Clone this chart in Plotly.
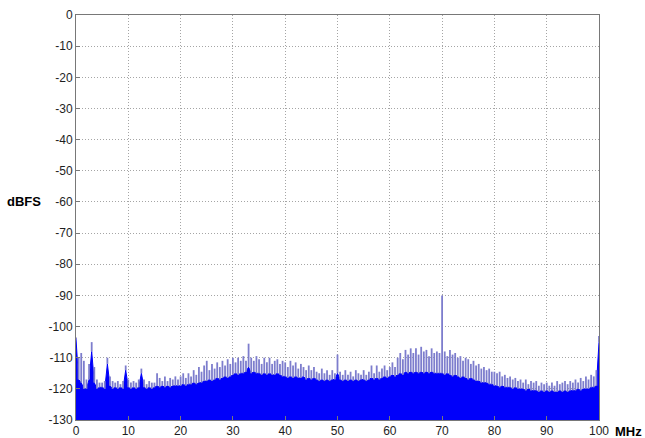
import numpy as np
import plotly.graph_objects as go

# Frequency grid (MHz), 0.5 MHz spacing
freq_mhz = np.arange(0, 100.5, 0.5)

# Solid noise floor (dBFS), 10 values per 5 MHz
floor_db = [
    -104, -117, -118, -120, -120, -117, -108, -118, -120, -119.5,      # 0-4.5
    -119.5, -120, -112, -119, -120, -119.5, -120, -119.5, -120, -114,  # 5-9.5
    -119.5, -120, -119.5, -120, -119.5, -115, -119.5, -120, -119.5, -120,  # 10-14.5
    -119.5, -119, -119.5, -119, -119.5, -119, -119.5, -119, -119, -119,    # 15-19.5
    -119, -118.5, -119, -118.5, -118.5, -118, -118.5, -118, -118, -117.5,  # 20-24.5
    -117.5, -117, -117.5, -117, -116.5, -117, -116.5, -116, -116.5, -116,  # 25-29.5
    -115.5, -115, -115.5, -115, -115, -114.5, -113, -115, -114.5, -115,    # 30-34.5
    -115, -115.5, -115, -115.5, -115, -115.5, -115.5, -115, -115.5, -116,  # 35-39.5
    -116, -116.5, -116, -116.5, -116, -116.5, -116.5, -116, -117, -116.5,  # 40-44.5
    -117, -116.5, -117, -117.5, -117, -117.5, -117, -117.5, -117, -117,    # 45-49.5
    -115, -117, -117.5, -117, -117.5, -117, -117.5, -117, -117.5, -117,    # 50-54.5
    -117, -117.5, -117, -116.5, -117, -116.5, -117, -116.5, -116, -116.5,  # 55-59.5
    -116, -115.5, -116, -115.5, -115, -115.5, -114.5, -115, -114.5, -115,  # 60-64.5
    -114.5, -115, -114.5, -115, -114.5, -115, -114.5, -115, -115, -115,    # 65-69.5
    -115, -115.5, -115, -115.5, -116, -115.5, -116, -116.5, -116, -116.5,  # 70-74.5
    -117, -116.5, -117, -117.5, -117.5, -118, -118, -118, -118.5, -118.5,  # 75-79.5
    -119, -119, -119.5, -119, -119.5, -119.5, -119.5, -120, -119.5, -120,  # 80-84.5
    -120, -120, -120.5, -120, -120.5, -120.5, -120.5, -121, -120.5, -121,  # 85-89.5
    -120.5, -121, -120.5, -121, -121, -120.5, -121, -120.5, -121, -120.5,  # 90-94.5
    -120.5, -120.5, -120, -120.5, -120, -120, -120, -119.5, -119.5, -119,  # 95-99.5
    -105,                                                                  # 100
]

# Peak (spur / noise maxima) levels (dBFS)
peak_db = [
    -103.5, -110, -108.5, -111, -117, -112, -105, -113, -117, -118,        # 0-4.5
    -118, -117.5, -110, -116, -117.5, -118, -117.5, -118.5, -117.5, -112.5,  # 5-9.5
    -117, -118, -117.5, -118, -117, -113.5, -117, -118.5, -117.5, -118,    # 10-14.5
    -118, -115, -116.5, -117.5, -116, -117.5, -116.5, -117, -116, -117,    # 15-19.5
    -116, -115, -116.5, -115, -116, -114, -115.5, -113, -114.5, -112.5,    # 20-24.5
    -111, -114, -112, -113.5, -111.5, -113, -111, -112.5, -110.5, -112,    # 25-29.5
    -110, -111.5, -110, -111, -109.5, -111, -105.5, -110, -111, -109.5,    # 30-34.5
    -110.5, -112, -110, -111.5, -110, -112, -111, -110.5, -112, -111,      # 35-39.5
    -111.5, -113, -111, -112.5, -111.5, -113.5, -112, -113, -114, -112.5,  # 40-44.5
    -114, -113, -114.5, -115, -113.5, -115, -114, -115.5, -114, -115,      # 45-49.5
    -109, -114.5, -115.5, -114, -115.5, -114.5, -116, -114, -115, -115.5,  # 50-54.5
    -114, -115.5, -114.5, -112.5, -115, -112.5, -114.5, -113.5, -112.5, -114,  # 55-59.5
    -113, -111.5, -113, -110, -108.5, -110.5, -107.5, -109, -107, -108.5,  # 60-64.5
    -107, -109, -106.5, -108, -107.5, -109.5, -107, -108.5, -108, -108.5,  # 65-69.5
    -90, -108, -109.5, -107.5, -109, -108.5, -110, -109.5, -111, -110,     # 70-74.5
    -110.5, -112, -111, -112.5, -112, -113.5, -113, -114, -113.5, -114.5,  # 75-79.5
    -114.5, -115, -114.5, -116, -115.5, -116.5, -116, -117, -116.5, -117.5,  # 80-84.5
    -117, -118, -117, -118.5, -117.5, -118, -117.5, -119, -118, -118.5,    # 85-89.5
    -118, -119, -118, -119, -117.5, -118.5, -118, -117.5, -118.5, -117.5,  # 90-94.5
    -118, -117, -118, -116.5, -117.5, -116, -117, -115.5, -116, -114,      # 95-99.5
    -103,                                                                  # 100
]

x_ticks = list(range(0, 101, 10))
y_ticks = list(range(-130, 1, 10))
y_min, y_max = -130, 0

BLUE = "rgb(0,0,250)"
SPIKE = "rgb(125,125,205)"
AXIS = "rgb(120,120,120)"
GRID = "rgb(165,165,165)"

fig = go.Figure()

# baseline at bottom of axis for the fill
fig.add_trace(go.Scatter(x=freq_mhz, y=[y_min] * len(freq_mhz), mode="lines",
                         line=dict(width=0, color=BLUE), hoverinfo="skip",
                         showlegend=False))

# spikes drawn as vertical segments up to the peak level
sx, sy = [], []
for f, lo, hi in zip(freq_mhz, floor_db, peak_db):
    if hi > lo:
        sx += [f, f, None]
        sy += [lo, hi, None]

# solid noise floor
fig.add_trace(go.Scatter(x=freq_mhz, y=floor_db, mode="lines", fill="tonexty",
                         fillcolor=BLUE, line=dict(width=1, color=BLUE),
                         showlegend=False))
fig.add_trace(go.Scatter(x=sx, y=sy, mode="lines",
                         line=dict(width=1.8, color=SPIKE), showlegend=False))

fig.update_layout(
    width=645, height=438,
    margin=dict(l=76, r=46, t=15, b=18),
    paper_bgcolor="white", plot_bgcolor="white",
    font=dict(family="Liberation Sans, Arial, sans-serif", size=12, color="rgb(30,30,30)"),
    showlegend=False,
)
common = dict(showline=True, linecolor=AXIS, linewidth=1, mirror=True,
              showgrid=True, gridcolor=GRID, griddash="1px,2px", gridwidth=1,
              ticks="inside", ticklen=4, tickcolor=AXIS, zeroline=False,
              tickfont=dict(size=12), layer="above traces", automargin=False)
fig.update_xaxes(range=[0, 100], tickvals=x_ticks, ticktext=[str(v) for v in x_ticks], **common)
fig.update_yaxes(range=[y_min, y_max], tickvals=y_ticks, ticktext=[str(v) for v in y_ticks], **common)

fig.add_annotation(text="<b>dBFS</b>", xref="paper", yref="y", x=-0.063, y=-60,
                   xanchor="right", yanchor="middle", showarrow=False,
                   font=dict(size=13, color="black"))
fig.add_annotation(text="<b>MHz</b>", xref="paper", yref="paper", x=1.057, y=0,
                   xanchor="center", yanchor="top", yshift=-2, showarrow=False,
                   font=dict(size=13, color="black"))

fig.write_html("out.html", config={"displayModeBar": False},
               post_script="document.body.style.margin='0';")
